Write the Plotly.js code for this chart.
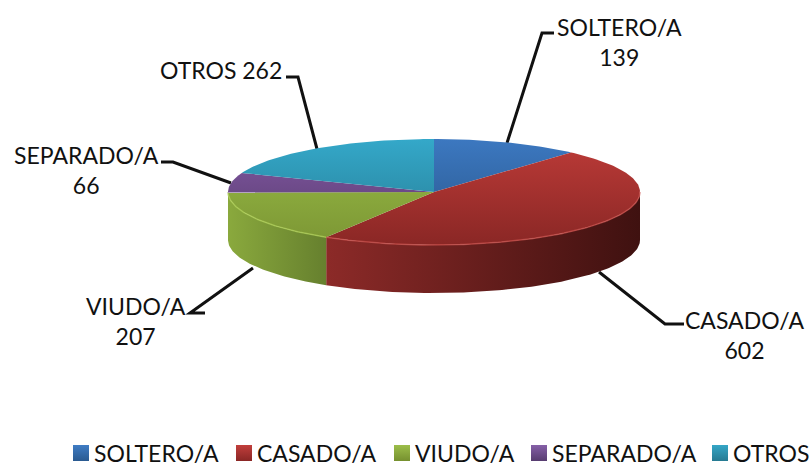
<!DOCTYPE html>
<html><head><meta charset="utf-8">
<script src="https://cdn.plot.ly/plotly-3.0.0.min.js"></script>
<style>html,body{margin:0;padding:0;background:#fff}#c{width:811px;height:469px}</style>
</head><body><div id="c"></div>
<script>
const categories = ['SOLTERO/A','CASADO/A','VIUDO/A','SEPARADO/A','OTROS'];
const values = [139,602,207,66,262];
const topLight = ['#3c78c0','#bd3b38','#98bc46','#8359a4','#34a8c9'];
const topDark  = ['#28558a','#8a2725','#7c9634','#553a6c','#267a92'];
const wallLeft = ['#2f5f96','#8c2a28','#8aa93d','#5f4080','#2a8aa5'];
const wallRight= ['#2f5f96','#3f1110','#66802e','#5f4080','#2a8aa5'];
const rimColor = ['#4a86cc','#c9504c','#aecf55','#9570b5','#4bb8d8'];
const legendColor = ['#3f7cc4','#c23f3c','#9cbe4a','#8660a8','#35a6c6'];
const legendDark  = ['#2a5a90','#8a2725','#76902f','#573c70','#267a92'];
// perspective skew of each slice's start angle, degrees
const startSkew = [0,2.5,2.5,2,5];

const cx=434, cy=192, rx=206, ry=53, depth=48;
const font='Lato, Carlito, "Open Sans", sans-serif';
const total=values.reduce((a,b)=>a+b,0);
const pt=(deg,dy=0)=>{const r=deg*Math.PI/180;return [cx+rx*Math.sin(r),cy-ry*Math.cos(r)+dy];};
function arc(a,b,dy=0){const xs=[],ys=[];const n=Math.max(2,Math.ceil(Math.abs(b-a)));
  for(let i=0;i<=n;i++){const p=pt(a+(b-a)*i/n,dy);xs.push(p[0]);ys.push(p[1]);}return [xs,ys];}
const starts=[];let acc=0;values.forEach((v,i)=>{starts.push(acc/total*360+startSkew[i]);acc+=v;});
const ends=starts.map((s,i)=>i+1<starts.length?starts[i+1]:360);
const traces=[];
const grad=(a,b,type,start,stop)=>({type,start,stop,colorscale:[[0,a],[1,b]]});
// walls (front half only)
values.forEach((v,i)=>{
  const a=Math.max(starts[i],90), b=Math.min(ends[i],270);
  if(b<=a) return;
  const [tx,ty]=arc(a,b), [bx,by]=arc(b,a,depth);
  traces.push({type:'scatter',mode:'lines',x:tx.concat(bx,[tx[0]]),y:ty.concat(by,[ty[0]]),
    fill:'toself',line:{width:0},hoverinfo:'skip',showlegend:false,
    fillgradient:grad(wallLeft[i],wallRight[i],'horizontal',Math.min(...tx),Math.max(...tx))});
});
// top faces
values.forEach((v,i)=>{
  const [x,y]=arc(starts[i],ends[i]);
  traces.push({type:'scatter',mode:'lines',x:[cx].concat(x,[cx]),y:[cy].concat(y,[cy]),
    fill:'toself',line:{width:0},hoverinfo:'skip',showlegend:false,
    fillgradient:grad(topLight[i],topDark[i],'vertical',cy-ry,cy+ry)});
});
// bevel rim on the front edge
values.forEach((v,i)=>{
  const a=Math.max(starts[i],90), b=Math.min(ends[i],270);
  if(b<=a) return;
  const [x,y]=arc(a,b,0);
  traces.push({type:'scatter',mode:'lines',x,y,line:{width:1.5,color:rimColor[i]},opacity:.7,hoverinfo:'skip',showlegend:false});
});
// legend drawn as square markers with text
const legendSwatchX=[81,244,402,539,720], legendTextX=[94,257,415,552,733], legendY=453;
traces.push({type:'scatter',mode:'markers',x:legendSwatchX,y:categories.map(()=>legendY),
  marker:{symbol:'square',size:16,color:legendColor,gradient:{type:'vertical',color:legendDark},line:{width:0}},
  hoverinfo:'skip',showlegend:false});

const labelPos=[[619,27,true],[744,320,true],[136,306,true],[86,155,true],[221,70,false]];
const fontSize=23;
const annotations=categories.map((c,i)=>({xref:'x',yref:'y',x:labelPos[i][0],
  y:labelPos[i][1]+(labelPos[i][2]?14.5:0),
  text:c+(labelPos[i][2]?'<br>':' ')+values[i],showarrow:false,align:'center',
  font:{family:font,size:fontSize,color:'#111'}}));
categories.forEach((c,i)=>annotations.push({xref:'x',yref:'y',x:legendTextX[i],y:legendY,text:c,
  showarrow:false,xanchor:'left',xshift:-2,font:{family:font,size:fontSize,color:'#111'}}));
const leaders=[
 'M554,33 L542,33 L507,143','M684,324 L665,324 L599,272','M205,313 L190,313 L253,268',
 'M161,162 L173,162 L231,183','M286,77 L298,77 L317,149'];
const shapes=leaders.map(p=>({type:'path',path:p,xref:'x',yref:'y',layer:'below',line:{color:'#111',width:3}}));

Plotly.newPlot('c',traces,{
  width:811,height:469,margin:{l:0,r:0,t:0,b:0,autoexpand:false},paper_bgcolor:'#fff',plot_bgcolor:'#fff',
  xaxis:{range:[0,811],visible:false,fixedrange:true},
  yaxis:{range:[469,0],visible:false,fixedrange:true},
  annotations,shapes,showlegend:false
},{displayModeBar:false,staticPlot:true});
</script></body></html>
